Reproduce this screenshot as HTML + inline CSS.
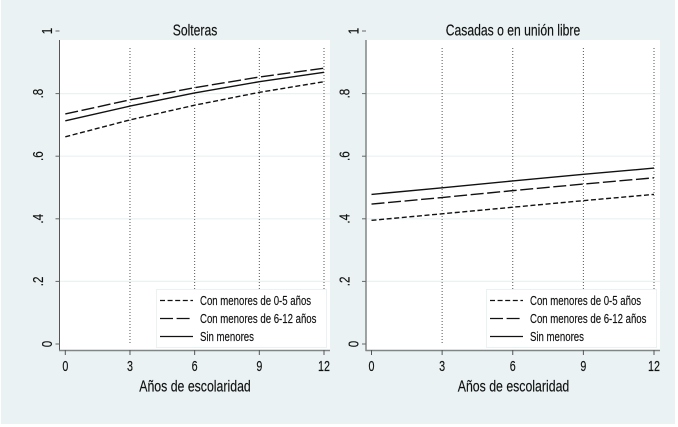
<!DOCTYPE html>
<html>
<head>
<meta charset="utf-8">
<style>
html,body{margin:0;padding:0;background:#fff;width:678px;height:427px;overflow:hidden}
svg{display:block;font-family:"Liberation Sans",sans-serif}
</style>
</head>
<body>
<svg id="chart" xmlns="http://www.w3.org/2000/svg" width="678" height="427" viewBox="0 0 678 427">
<rect x="1" y="0" width="674" height="424" fill="#eaf2f3"/>
</svg>
<script>
var xTicks = [0, 3, 6, 9, 12];
var yTicks = [0, 0.2, 0.4, 0.6, 0.8, 1];
var yTickLabels = ["0", ".2", ".4", ".6", ".8", "1"];
var legendLabels = ["Con menores de 0-5 años", "Con menores de 6-12 años", "Sin menores"];
var xAxisLabel = "Años de escolaridad";
var titleSolteras = "Solteras";
var titleCasadas = "Casadas o en unión libre";
var solterasMenores05 = [0.662, 0.716, 0.763, 0.804, 0.838];
var solterasMenores612 = [0.735, 0.780, 0.819, 0.853, 0.881];
var solterasSinMenores = [0.713, 0.760, 0.802, 0.838, 0.868];
var casadasMenores05 = [0.395, 0.416, 0.437, 0.458, 0.478];
var casadasMenores612 = [0.447, 0.468, 0.490, 0.511, 0.531];
var casadasSinMenores = [0.478, 0.499, 0.521, 0.542, 0.562];

var NS = "http://www.w3.org/2000/svg";
var svg = document.getElementById("chart");
var DASHES = ["5 2.6", "13 3.6", ""];
var Y0 = 344, Y1 = 31;
function yScale(v) { return Y0 + (Y1 - Y0) * v; }

function mk(tag, attrs, parent) {
  var el = document.createElementNS(NS, tag);
  for (var k in attrs) el.setAttribute(k, attrs[k]);
  (parent || svg).appendChild(el);
  return el;
}
function label(str, x, y, size, sx, anchor, rot) {
  var t = "translate(" + x + " " + y + ")" + (rot ? " rotate(-90)" : "") + " scale(" + sx + " 1)";
  var el = mk("text", { transform: t, "font-size": size, fill: "#111", stroke: "#111", "stroke-width": 0.15, "text-anchor": anchor || "middle" });
  el.textContent = str;
  return el;
}

function drawPanel(p, series) {
  function xScale(v) { return p.x0 + (p.x12 - p.x0) * v / 12; }
  var el;

  el = mk("rect", { x: p.left, y: 40, width: p.right - p.left, height: 310, fill: "#fff" });
  
  

  yTicks.forEach(function (v, i) {
    if (v === 0 || v === 1) return;
    var g = mk("line", { x1: p.left, x2: p.right, y1: yScale(v), y2: yScale(v), stroke: "#eaf2f3", "stroke-width": 1.2 });
    
    
  });

  xTicks.forEach(function (v) {
    if (v === 0) return;
    var g = mk("line", { x1: xScale(v), x2: xScale(v), y1: 48, y2: 345, stroke: "#555", "stroke-width": 1, "stroke-dasharray": "1 2" });
    
    
  });

  series.forEach(function (vals, s) {
    var pts = vals.map(function (v, i) { return xScale(xTicks[i]) + "," + yScale(v); }).join(" ");
    var l = mk("polyline", { points: pts, fill: "none", stroke: "#111", "stroke-width": 1.4 });
    if (DASHES[s]) l.setAttribute("stroke-dasharray", DASHES[s]);
    
    
  });

  el = mk("line", { x1: p.left, x2: p.left, y1: 40, y2: 351, stroke: p.axisColor, "stroke-width": p.axisWidth });
  
  
  el = mk("line", { x1: p.left - 0.5, x2: p.right, y1: 350.5, y2: 350.5, stroke: "#808686", "stroke-width": 1.6 });
  
  

  yTicks.forEach(function (v, i) {
    var tk = mk("line", { x1: p.left - 4, x2: p.left, y1: yScale(v), y2: yScale(v), stroke: "#666", "stroke-width": 1 });
    
    
    var outer = (v === 0 || v === 1);
    var t = label(yTickLabels[i], outer ? p.left - 7.5 : p.left - 16.5, yScale(v), 14.5, 0.8, "middle", true);
    
    
  });

  xTicks.forEach(function (v) {
    var tk = mk("line", { x1: xScale(v), x2: xScale(v), y1: 350, y2: 355, stroke: "#555", "stroke-width": 1 });
    
    
    var t = label(String(v), xScale(v), 371, 14.5, 0.74);
    
    
  });

  el = label(p.title, p.titleX, 35.5, 16, 0.76);
  
  
  el = label(xAxisLabel, p.xTitleX, 391.5, 16, 0.77);
  
  

  var box = mk("rect", { x: p.legendX + 0.5, y: 289.5, width: 170, height: 58, fill: "#fff", stroke: "#eaf2f3", "stroke-width": 1 });
  
  
  legendLabels.forEach(function (txt, i) {
    var ly = 300.5 + i * 18;
    var sw = mk("line", { x1: p.legendX + 4, x2: p.legendX + 37, y1: ly, y2: ly, stroke: "#111", "stroke-width": 1.2 });
    if (DASHES[i]) sw.setAttribute("stroke-dasharray", DASHES[i]);
    
    
    var t = label(txt, p.legendX + 44, ly + 4.5, 13, 0.74, "start");
    
    
  });
}

drawPanel(
  { left: 59.5, right: 330, x0: 65.3, x12: 324, title: titleSolteras, titleX: 195, xTitleX: 195, legendX: 156, axisColor: "#555", axisWidth: 1 },
  [solterasMenores05, solterasMenores612, solterasSinMenores]
);
drawPanel(
  { left: 366, right: 660, x0: 371.5, x12: 654, title: titleCasadas, titleX: 513, xTitleX: 513.5, legendX: 486, axisColor: "#808686", axisWidth: 1.5 },
  [casadasMenores05, casadasMenores612, casadasSinMenores]
);
</script>
</body>
</html>
